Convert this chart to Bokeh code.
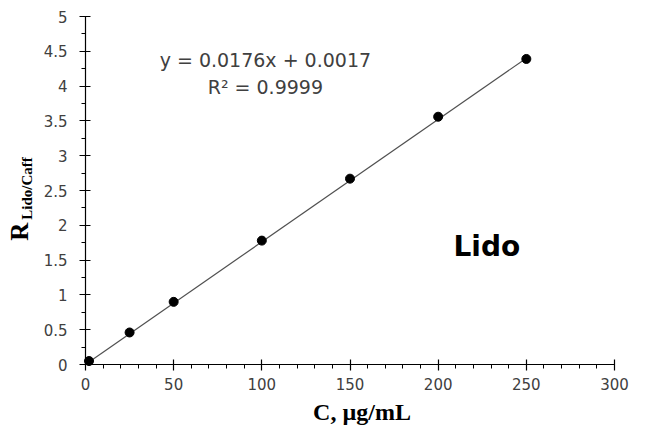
import math
import numpy as np
from bokeh.plotting import figure
from bokeh.models import Range1d, FixedTicker, Label, LinearAxis
from bokeh.embed import file_html
from bokeh.resources import INLINE

# ---- data ----
conc = [2, 25, 50, 100, 150, 200, 250]
ratio = [0.05, 0.46, 0.90, 1.78, 2.67, 3.56, 4.39]
slope = 0.0176
intercept = 0.0017
eq_text = "y = 0.0176x + 0.0017"
r2_text = "R\u00b2 = 0.9999"
series_name = "Lido"
x_label = "C, \u00b5g/mL"
y_label_main = "R"
y_label_sub = "Lido/Caff"
x_ticks = [0, 50, 100, 150, 200, 250, 300]
x_tick_labels = ["0", "50", "100", "150", "200", "250", "300"]
y_ticks = [0, 0.5, 1, 1.5, 2, 2.5, 3, 3.5, 4, 4.5, 5]
y_tick_labels = ["0", "0.5", "1", "1.5", "2", "2.5", "3", "3.5", "4", "4.5", "5"]

TICK_FONT = "DejaVu Sans"
TICK_COLOR = "#404040"
SERIF = "Liberation Serif"

# frame fills the canvas; axes are fixed at x=0 / y=0 inside it
W, H = 630, 426
X0_PX, X300_PX = 85, 614
Y0_PX, Y5_PX = 364, 16
sx = (X300_PX - X0_PX) / 300.0
sy = (Y0_PX - Y5_PX) / 5.0
x_range = Range1d(-X0_PX / sx, 300 + (W - X300_PX) / sx)
y_range = Range1d(-(H - Y0_PX) / sy, 5 + Y5_PX / sy)

p = figure(width=W, height=H, x_range=x_range, y_range=y_range,
           output_backend="svg", toolbar_location=None,
           x_axis_location=None, y_axis_location=None,
           min_border=0, min_border_left=0, min_border_right=0,
           min_border_top=0, min_border_bottom=0)
p.outline_line_color = None
p.grid.visible = False
p.background_fill_color = "white"
p.border_fill_color = "white"

# trendline from the fitted equation over the data range
tx = [conc[0], conc[-1]]
ty = [slope * v + intercept for v in tx]
p.line(tx, ty, line_color="#505050", line_width=1.2)
p.scatter(conc, ratio, size=9, fill_color="black", line_color="black")

xaxis = LinearAxis(fixed_location=0, bounds=(0, 300),
                   ticker=FixedTicker(ticks=x_ticks, minor_ticks=list(np.arange(0, 301, 10))))
yaxis = LinearAxis(fixed_location=0, bounds=(0, 5),
                   ticker=FixedTicker(ticks=y_ticks, minor_ticks=list(np.arange(0, 5.01, 0.25))))
xaxis.major_label_overrides = {t: s for t, s in zip(x_ticks, x_tick_labels)}
yaxis.major_label_overrides = {t: s for t, s in zip(y_ticks, y_tick_labels)}
for ax in (xaxis, yaxis):
    ax.axis_line_color = "black"
    ax.axis_line_width = 1.2
    ax.major_tick_line_color = "black"
    ax.minor_tick_line_color = "black"
    ax.major_tick_line_width = 1.2
    ax.minor_tick_line_width = 1
    ax.major_tick_in = 5
    ax.major_tick_out = 6
    ax.minor_tick_in = 0
    ax.minor_tick_out = 4
    ax.major_label_text_font = TICK_FONT
    ax.major_label_text_font_size = "15px"
    ax.major_label_text_color = TICK_COLOR
xaxis.major_label_standoff = 7
yaxis.major_label_standoff = 12
p.add_layout(xaxis, "below")
p.add_layout(yaxis, "left")

# y axis label: R with subscript
p.add_layout(Label(x=-37.3, y=1.777, text=y_label_main, angle=math.pi / 2,
                   text_align="left", text_baseline="middle",
                   text_font=SERIF, text_font_style="bold",
                   text_font_size="25px", text_color="black"))
p.add_layout(Label(x=-33.0, y=2.08, text=y_label_sub, angle=math.pi / 2,
                   text_align="left", text_baseline="middle",
                   text_font=SERIF, text_font_style="bold",
                   text_font_size="15px", text_color="black"))

# x axis label
p.add_layout(Label(x=156.8, y=-0.68, text=x_label,
                   text_align="center", text_baseline="middle",
                   text_font=SERIF, text_font_style="bold",
                   text_font_size="24px", text_color="black"))

# equation
p.add_layout(Label(x=102, y=4.37, text=eq_text, text_align="center",
                   text_baseline="middle", text_font=TICK_FONT,
                   text_font_size="19px", text_color=TICK_COLOR))
p.add_layout(Label(x=102, y=3.99, text=r2_text, text_align="center",
                   text_baseline="middle", text_font=TICK_FONT,
                   text_font_size="19px", text_color=TICK_COLOR))

# series name
p.add_layout(Label(x=227.6, y=1.69, text=series_name, text_align="center",
                   text_baseline="middle", text_font=TICK_FONT,
                   text_font_style="bold", text_font_size="28px",
                   text_color="black"))

open("out.html", "w").write(file_html(p, INLINE))
